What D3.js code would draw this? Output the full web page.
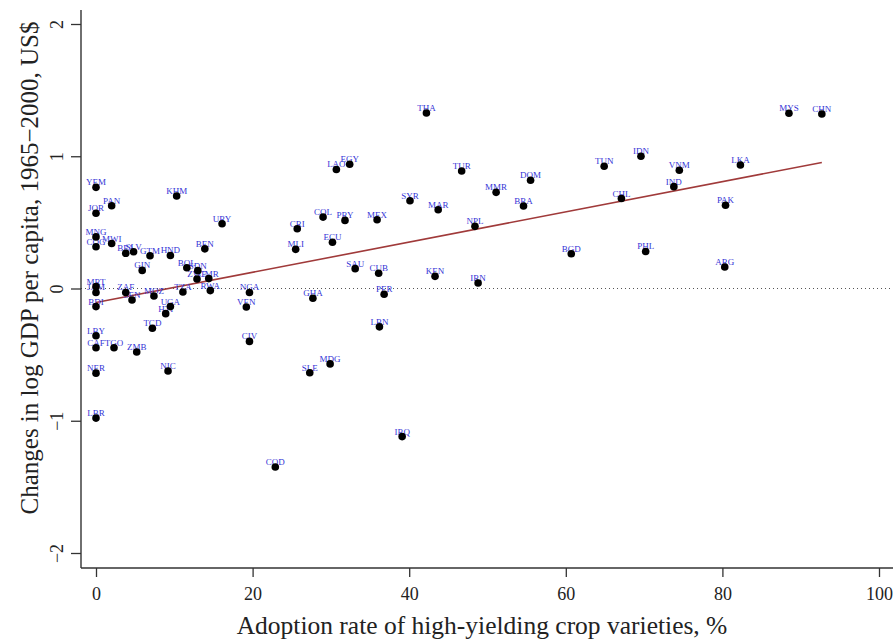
<!DOCTYPE html>
<html>
<head>
<meta charset="utf-8">
<script src="https://cdn.jsdelivr.net/npm/d3@7/dist/d3.min.js"></script>
<style>
  html, body { margin: 0; padding: 0; background: #fff; }
  svg { display: block; }
</style>
</head>
<body>
<svg id="chart" width="893" height="641"></svg>
<script>
// Country codes, adoption of high-yielding varieties (%) and change in log GDP per capita
const countries = ["YEM","PAN","JOR","KHM","URY","MNG","MWI","COG","BEN","BFA","SLV","GTM","HND","GIN","BOL","SDN","ZWE","CMR","TZA","RWA","MRT","JAM","ZAF","MOZ","SEN","BDI","UGA","HTI","TCD","LBY","CAF","TGO","ZMB","NER","NIC","LBR","NGA","VEN","LAO","EGY","SYR","MAR","CRI","COL","PRY","MEX","ECU","MLI","SAU","CUB","KEN","GHA","PER","CIV","LBN","MDG","SLE","IRQ","COD","THA","TUR","DOM","MMR","BRA","NPL","TUN","IDN","CHL","BGD","PHL","IRN","MYS","CHN","VNM","LKA","IND","PAK","ARG"];
const adoption = [0,2.0,0,10.3,16.1,0,2.0,0,13.9,3.8,4.8,6.9,9.5,5.9,11.6,13.0,12.9,14.4,11.1,14.6,0,0,3.8,7.4,4.6,0,9.5,8.9,7.2,0,0,2.3,5.2,0,9.2,0,19.6,19.2,30.7,32.4,40.1,43.7,25.7,29.0,31.8,35.9,30.2,25.5,33.1,36.1,43.3,27.7,36.8,19.6,36.2,29.9,27.3,39.1,22.9,42.2,46.7,55.5,51.1,54.6,48.4,64.9,69.6,67.1,60.7,70.2,48.8,88.5,92.7,74.5,82.3,73.8,80.4,80.3];
const gdpChange = [0.765,0.626,0.569,0.70,0.49,0.39,0.34,0.316,0.30,0.266,0.278,0.248,0.25,0.137,0.157,0.135,0.072,0.075,-0.026,-0.016,0.014,-0.03,-0.03,-0.057,-0.087,-0.137,-0.137,-0.19,-0.30,-0.357,-0.448,-0.448,-0.48,-0.64,-0.624,-0.98,-0.03,-0.14,0.90,0.94,0.664,0.596,0.452,0.54,0.515,0.52,0.35,0.296,0.15,0.115,0.092,-0.074,-0.044,-0.40,-0.29,-0.57,-0.637,-1.12,-1.35,1.327,0.888,0.818,0.727,0.624,0.47,0.924,1.0,0.68,0.263,0.28,0.042,1.325,1.32,0.894,0.934,0.77,0.63,0.163];

// Fitted regression line endpoints (adoption %, change in log GDP)
const fitX = [0, 92.7];
const fitY = [-0.106, 0.953];

const xTicks = [0, 20, 40, 60, 80, 100];
const yTicks = [-2, -1, 0, 1, 2];

const xTitle = "Adoption rate of high-yielding crop varieties, %";
const yTitle = "Changes in log GDP per capita, 1965\u22122000, US$";

const svg = d3.select("#chart");
const W = 893, H = 641;
const plotLeft = 81, plotTop = 10, plotBottom = 568, plotRight = W;

const x = d3.scaleLinear().domain([0, 100]).range([96, 879]);
const y = d3.scaleLinear().domain([-2, 2]).range([553, 24]);

const serif = "'Liberation Serif', 'Times New Roman', serif";
const axisColor = "#333";

// Zero reference line
svg.append("line")
  .attr("x1", plotLeft).attr("x2", plotRight)
  .attr("y1", y(0)).attr("y2", y(0))
  .attr("stroke", "#555").attr("stroke-width", 1)
  .attr("stroke-dasharray", "1,3");

// Fitted line
const line = d3.line().x(d => x(d[0])).y(d => y(d[1]));
svg.append("path")
  .datum(d3.zip(fitX, fitY))
  .attr("d", line)
  .attr("fill", "none")
  .attr("stroke", "#a03a3a")
  .attr("stroke-width", 1.6);

// Axes
const xAxis = d3.axisBottom(x).tickValues(xTicks).tickSize(9).tickPadding(10).tickFormat(d3.format("d"));
const gx = svg.append("g").attr("transform", `translate(0,${plotBottom})`).call(xAxis);
gx.select(".domain").remove();
gx.selectAll(".tick line").attr("stroke", axisColor).attr("stroke-width", 1.3);
gx.selectAll(".tick text").attr("font-family", serif).attr("font-size", 18).attr("fill", "#222");

const yAxis = d3.axisLeft(y).tickValues(yTicks).tickSize(10).tickFormat(d3.format("d"));
const gy = svg.append("g").attr("transform", `translate(${plotLeft},0)`).call(yAxis);
gy.select(".domain").remove();
gy.selectAll(".tick line").attr("stroke", axisColor).attr("stroke-width", 1.3);
gy.selectAll(".tick text")
  .attr("font-family", serif).attr("font-size", 18).attr("fill", "#222")
  .attr("x", null).attr("dy", null)
  .attr("text-anchor", "middle")
  .attr("transform", "translate(-18,0) rotate(-90)");

// Axis lines
svg.append("line").attr("x1", plotLeft).attr("x2", plotLeft).attr("y1", plotTop).attr("y2", plotBottom)
  .attr("stroke", axisColor).attr("stroke-width", 1.4);
svg.append("line").attr("x1", plotLeft).attr("x2", plotRight).attr("y1", plotBottom).attr("y2", plotBottom)
  .attr("stroke", axisColor).attr("stroke-width", 1.4);

// Axis titles
svg.append("text")
  .attr("x", 482).attr("y", 634)
  .attr("text-anchor", "middle")
  .attr("font-family", serif).attr("font-size", 25.5).attr("fill", "#222")
  .text(xTitle);

svg.append("text")
  .attr("transform", "translate(38,268) rotate(-90)")
  .attr("text-anchor", "middle")
  .attr("font-family", serif).attr("font-size", 25).attr("fill", "#222")
  .text(yTitle);

// Country points with labels
const pts = countries.map((c, i) => ({ code: c, a: adoption[i], g: gdpChange[i] }));

svg.append("g").selectAll("text").data(pts).join("text")
  .attr("x", d => x(d.a))
  .attr("y", d => y(d.g) - 2)
  .attr("text-anchor", "middle")
  .attr("font-family", serif).attr("font-size", 9)
  .attr("fill", "#3434d6")
  .text(d => d.code);

svg.append("g").selectAll("circle").data(pts).join("circle")
  .attr("cx", d => x(d.a))
  .attr("cy", d => y(d.g))
  .attr("r", 3.8)
  .attr("fill", "#000");
</script>
</body>
</html>
